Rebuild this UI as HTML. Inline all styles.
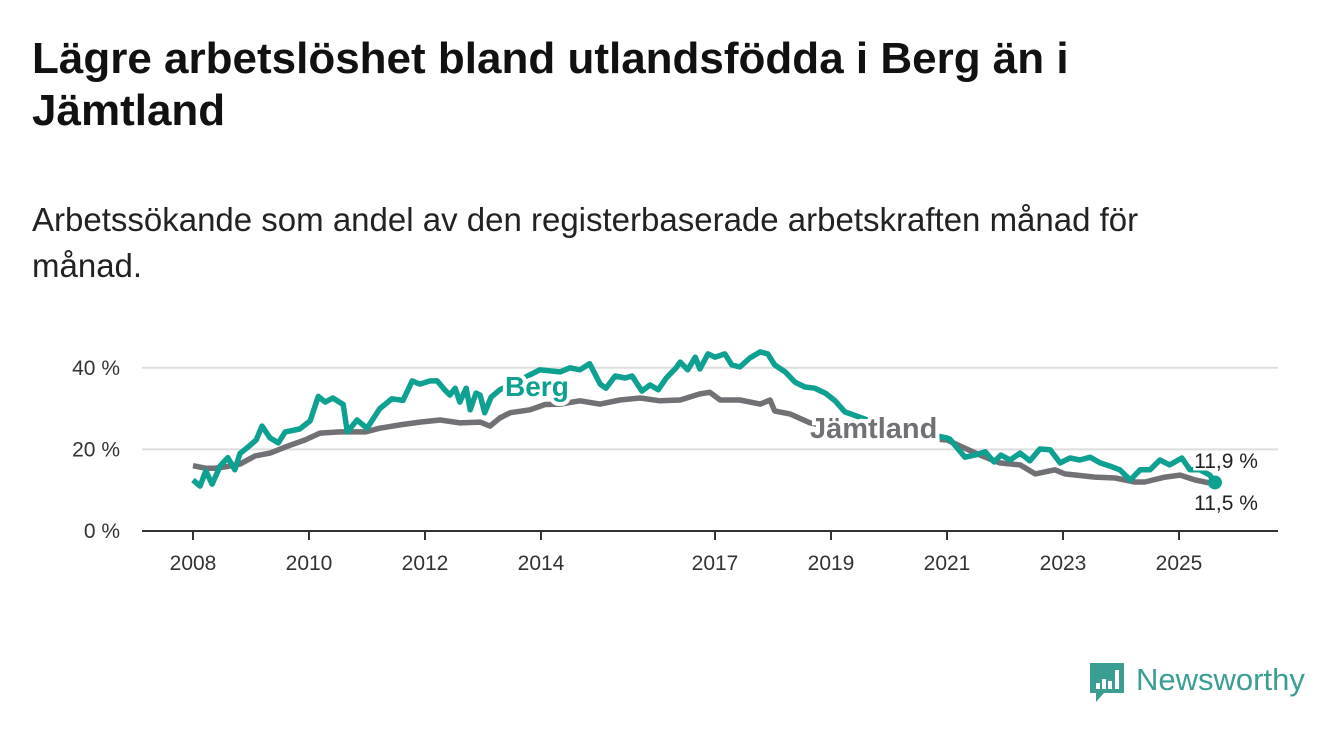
<!DOCTYPE html>
<html><head><meta charset="utf-8"><style>
body{margin:0;background:#fff;width:1340px;height:734px;overflow:hidden;font-family:"Liberation Sans","DejaVu Sans",sans-serif;}
#title{position:absolute;left:32px;top:33px;font-size:44px;font-weight:bold;line-height:52px;color:#111;width:1140px;}
#sub{position:absolute;left:32px;top:197px;font-size:33px;line-height:46px;color:#222;width:1200px;}
svg{position:absolute;left:0;top:0;}
</style></head><body>
<div id="title">Lägre arbetslöshet bland utlandsfödda i Berg än i Jämtland</div>
<div id="sub">Arbetssökande som andel av den registerbaserade arbetskraften månad för månad.</div>
<svg id="chart" width="1340" height="734"></svg>
<script>
const xTicks=[2008,2010,2012,2014,2017,2019,2021,2023,2025];
const yTicks=[0,20,40];
const bergYears=[2008,2008.12,2008.22,2008.33,2008.47,2008.6,2008.72,2008.81,2008.95,2009.09,2009.19,2009.33,2009.47,2009.59,2009.84,2010.02,2010.16,2010.28,2010.41,2010.59,2010.66,2010.83,2011,2011.22,2011.43,2011.62,2011.78,2011.91,2012.09,2012.21,2012.34,2012.43,2012.52,2012.6,2012.71,2012.78,2012.88,2012.95,2013.03,2013.14,2013.29,2013.64,2013.98,2014.33,2014.5,2014.67,2014.84,2015.02,2015.12,2015.28,2015.45,2015.57,2015.74,2015.88,2016.02,2016.16,2016.33,2016.4,2016.53,2016.66,2016.74,2016.88,2017,2017.17,2017.29,2017.43,2017.6,2017.78,2017.91,2018.03,2018.21,2018.38,2018.55,2018.72,2018.9,2019.07,2019.24,2019.67,2020.19,2021,2021.05,2021.31,2021.48,2021.66,2021.81,2021.93,2022.09,2022.26,2022.43,2022.6,2022.78,2022.95,2023.12,2023.29,2023.47,2023.64,2023.81,2023.98,2024.16,2024.33,2024.5,2024.67,2024.84,2025.05,2025.19,2025.36,2025.53,2025.62];
const bergValues=[12.5,11,14.7,11.5,16,18,15,19,20.6,22.3,25.7,22.8,21.6,24.3,25,27,33,31.6,32.6,31,24.3,27.2,25.2,30,32.4,32,36.8,36,36.8,36.8,34.6,33.3,35,31.6,35,29.7,33.8,33.3,29,32.8,34.6,37,39.5,39,40,39.5,41,36,35,38,37.5,38,34.3,35.8,34.6,37.5,40,41.4,39.5,42.6,39.7,43.4,42.6,43.4,40.7,40.2,42.4,43.9,43.4,40.7,39,36.5,35.3,35,33.8,31.9,29.2,27,25,22.8,22.5,18.1,18.6,19.4,16.9,18.6,17.4,19.1,17.2,20.1,19.9,16.7,17.9,17.4,18.1,16.7,15.9,15,12.5,15,15,17.4,16.2,17.9,15,15,13.7,11.9];
const jamtYears=[2008,2008.21,2008.38,2008.55,2008.81,2009.07,2009.33,2009.67,2009.93,2010.19,2010.53,2010.79,2010.97,2011.22,2011.57,2011.91,2012.26,2012.6,2012.95,2013.12,2013.29,2013.47,2013.81,2014.07,2014.33,2014.67,2015.02,2015.36,2015.71,2016.05,2016.4,2016.74,2016.91,2017.09,2017.43,2017.78,2017.95,2018.03,2018.29,2018.64,2019.2,2020,2021,2021.31,2021.57,2021.91,2022.26,2022.52,2022.86,2023.03,2023.55,2023.9,2024.24,2024.41,2024.76,2025.02,2025.28,2025.62];
const jamtValues=[16,15.4,15.4,15.7,16.4,18.4,19.1,21,22.3,24,24.3,24.3,24.3,25.2,26,26.7,27.2,26.5,26.7,25.7,27.7,29,29.7,31,31.1,31.9,31.1,32.1,32.6,31.9,32.1,33.6,34,32.1,32.1,31.1,32.1,29.4,28.7,26.5,25,23.5,22.3,20.3,18.6,16.7,16.2,14,15,14,13.2,13,12,12,13.2,13.7,12.5,11.5];
const NS='http://www.w3.org/2000/svg';
const svg=document.getElementById('chart');
const X=y=>193+(y-2008)*58;
const Y=v=>531-v*4.08;
function el(t,a,txt){const e=document.createElementNS(NS,t);for(const k in a)e.setAttribute(k,a[k]);if(txt!==undefined)e.textContent=txt;svg.appendChild(e);return e;}
yTicks.forEach(v=>{
  if(v>0){const g=el('line',{x1:142,x2:1278,y1:Y(v),y2:Y(v),stroke:'#ddd','stroke-width':2});
  
  }
  const t=el('text',{x:120,y:Y(v)+7,'text-anchor':'end','font-size':21,fill:'#333'},v+' %');
  
  
});
const ax=el('line',{x1:142,x2:1278,y1:531,y2:531,stroke:'#333','stroke-width':2});


xTicks.forEach(y=>{
  const tk=el('line',{x1:X(y),x2:X(y),y1:531,y2:540,stroke:'#333','stroke-width':2});
  
  
  const t=el('text',{x:X(y),y:570,'text-anchor':'middle','font-size':21,fill:'#333'},y);
  
  
});
function line(ys,vs,c,name){
  const d=ys.map((y,i)=>(i?'L':'M')+X(y).toFixed(1)+','+Y(vs[i]).toFixed(1)).join('');
  const p=el('path',{d:d,fill:'none',stroke:c,'stroke-width':5.5,'stroke-linejoin':'round'});
  
  
}
line(jamtYears,jamtValues,'#717075','line-jamtland');
line(bergYears,bergValues,'#0ea192','line-berg');
const lb=el('text',{x:505,y:396,'font-size':28,'font-weight':'bold',fill:'#0ea192',stroke:'#fff','stroke-width':8,'paint-order':'stroke'},'Berg');


const lj=el('text',{x:810,y:438,'font-size':29,'font-weight':'bold',fill:'#717075',stroke:'#fff','stroke-width':8,'paint-order':'stroke'},'Jämtland');


const lastB=bergValues.length-1,lastJ=jamtValues.length-1;
const dt=el('circle',{cx:X(bergYears[lastB]),cy:Y(bergValues[lastB]),r:7,fill:'#0ea192'});


const v1=el('text',{x:1226,y:468,'text-anchor':'middle','font-size':21,fill:'#222',stroke:'#fff','stroke-width':5,'paint-order':'stroke'},bergValues[lastB].toFixed(1).replace('.',',')+' %');


const v2=el('text',{x:1226,y:510,'text-anchor':'middle','font-size':21,fill:'#222'},jamtValues[lastJ].toFixed(1).replace('.',',')+' %');


const ic=el('path',{d:'M1090,663h34v30h-20l-8,9v-9h-6z',fill:'#3a9e93'});


[[1096,683,4,6],[1102,679,4,10],[1108,681,4,8],[1115,670,4,19]].forEach(b=>{const r=el('rect',{x:b[0],y:b[1],width:b[2],height:b[3],fill:'#fff'});

});
const lt=el('text',{x:1136,y:690,'font-size':31,fill:'#3a9e93'},'Newsworthy');


</script>
</body></html>
